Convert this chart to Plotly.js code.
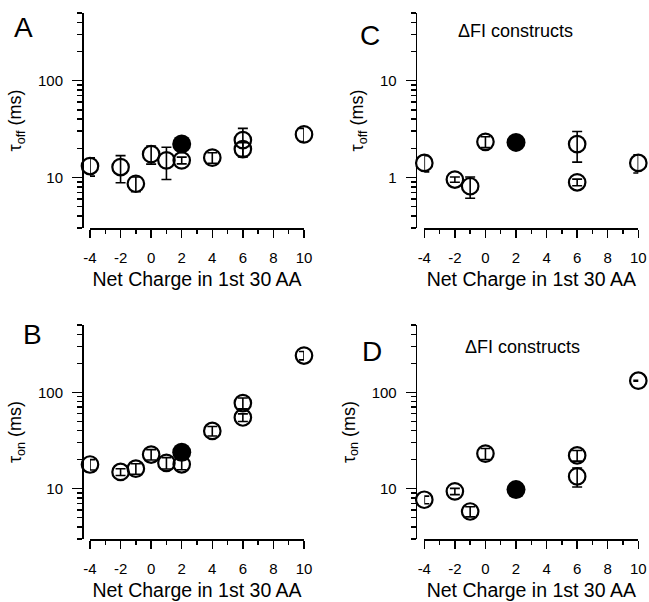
<!DOCTYPE html>
<html>
<head>
<meta charset="utf-8">
<script src="https://cdn.plot.ly/plotly-3.0.1.min.js"></script>
<style>html,body{margin:0;padding:0;background:#fff;}#chart{width:649px;height:602px;}</style>
</head>
<body>
<div id="chart"></div>
<script>
// ---- Data ----
// Panel A: tau_off, full constructs
const chargeA = [-4, -2, -1, 0, 1, 2, 4, 6, 6, 10];
const tauOffA = [13.1, 12.8, 8.6, 17.4, 15.0, 15.0, 16.0, 24.3, 19.6, 27.8];
const tauOffAErr = [2.8, 4.0, 1.5, 3.7, 5.5, 1.2, 2.0, 7.8, 3.3, 4.3];
const chargeAFilled = [2];
const tauOffAFilled = [22.1];

// Panel C: tau_off, ΔFI constructs
const chargeC = [-4, -2, -1, 0, 6, 6, 10];
const tauOffC = [1.41, 0.95, 0.81, 2.33, 2.21, 0.89, 1.41];
const tauOffCErr = [0.27, 0.06, 0.2, 0.3, 0.77, 0.07, 0.3];
const chargeCFilled = [2];
const tauOffCFilled = [2.30];

// Panel B: tau_on, full constructs
const chargeB = [-4, -2, -1, 0, 1, 2, 4, 6, 6, 10];
const tauOnB = [17.8, 14.9, 16.1, 22.6, 18.5, 17.9, 39.7, 77.3, 54.8, 241];
const tauOnBErr = [2.2, 1.2, 2.0, 2.8, 2.5, 2.2, 4.5, 10, 5, 24];
const chargeBFilled = [2];
const tauOnBFilled = [23.9];

// Panel D: tau_on, ΔFI constructs
const chargeD = [-4, -2, -1, 0, 6, 6, 10];
const tauOnD = [7.67, 9.37, 5.79, 23.1, 22.1, 13.4, 132];
const tauOnDErr = [0.7, 0.7, 0.7, 3.0, 2.8, 3.0, 1.5];
const chargeDFilled = [2];
const tauOnDFilled = [9.77];

const xTickVals = [-4, -2, 0, 2, 4, 6, 8, 10];
const xTitle = 'Net Charge in 1st 30 AA';
const yTitleOff = 'τ<sub>off</sub> (ms)';
const yTitleOn = 'τ<sub>on</sub> (ms)';
const panelLetters = ['A', 'B', 'C', 'D'];
const subTitle = 'ΔFI constructs';

// ---- Styling ----
const FONT = 'Liberation Sans, Arial, Helvetica, sans-serif';
const W = 649, H = 602;
const px = v => v / W;
const py = v => 1 - v / H;

function openTrace(x, y, err, xa, ya) {
  return {
    type: 'scatter', mode: 'markers', x: x, y: y, xaxis: xa, yaxis: ya,
    cliponaxis: false, showlegend: false, hoverinfo: 'x+y',
    marker: {symbol: 'circle', size: 16.5, color: 'rgba(0,0,0,0)', line: {color: 'black', width: 2.2}},
    error_y: {type: 'data', array: err, visible: true, color: 'black', thickness: 1.6, width: 5}
  };
}
function filledTrace(x, y, xa, ya) {
  return {
    type: 'scatter', mode: 'markers', x: x, y: y, xaxis: xa, yaxis: ya,
    cliponaxis: false, showlegend: false, hoverinfo: 'x+y',
    marker: {symbol: 'circle', size: 19, color: 'black', line: {color: 'black', width: 0}}
  };
}

const data = [
  openTrace(chargeA, tauOffA, tauOffAErr, 'x', 'y'),
  filledTrace(chargeAFilled, tauOffAFilled, 'x', 'y'),
  openTrace(chargeC, tauOffC, tauOffCErr, 'x2', 'y2'),
  filledTrace(chargeCFilled, tauOffCFilled, 'x2', 'y2'),
  openTrace(chargeB, tauOnB, tauOnBErr, 'x3', 'y3'),
  filledTrace(chargeBFilled, tauOnBFilled, 'x3', 'y3'),
  openTrace(chargeD, tauOnD, tauOnDErr, 'x4', 'y4'),
  filledTrace(chargeDFilled, tauOnDFilled, 'x4', 'y4')
];

function minorLog(lo, hi) {
  const v = [];
  for (let d = Math.floor(Math.log10(lo)); d <= Math.ceil(Math.log10(hi)); d++) {
    for (let k = 2; k <= 9; k++) {
      const t = k * Math.pow(10, d);
      if (t >= lo * 0.999 && t <= hi * 1.001) v.push(t);
    }
  }
  return v;
}

function xAxis(domain, anchor) {
  return {
    domain: domain, anchor: anchor, range: [-4, 10],
    showline: true, linecolor: 'black', linewidth: 1.5,
    ticks: 'outside', ticklen: 8, tickwidth: 1.5, tickcolor: 'black',
    tickvals: xTickVals, ticktext: xTickVals.map(String), ticklabelstandoff: 7,
    minor: {ticks: 'outside', ticklen: 4, tickwidth: 1.5, tickcolor: 'black', tickvals: [-3, -1, 1, 3, 5, 7, 9]},
    showgrid: false, zeroline: false,
    tickfont: {family: FONT, size: 15, color: 'black'},
    title: {text: xTitle, font: {family: FONT, size: 19.5, color: 'black'}, standoff: 8},
    fixedrange: true
  };
}
function yAxis(domain, position, lo, hi, tickvals, title) {
  return {
    type: 'log', domain: domain, anchor: 'free', position: position,
    range: [Math.log10(lo), Math.log10(hi)],
    showline: true, linecolor: 'black', linewidth: 1.5,
    ticks: 'outside', ticklen: 10, tickwidth: 1.5, tickcolor: 'black',
    tickvals: tickvals, ticktext: tickvals.map(String), ticklabelstandoff: 6,
    minor: {ticks: 'outside', ticklen: 5, tickwidth: 1.5, tickcolor: 'black', tickvals: minorLog(lo, hi)},
    showgrid: false, zeroline: false,
    tickfont: {family: FONT, size: 15, color: 'black'},
    title: {text: title, font: {family: FONT, size: 18, color: 'black'}, standoff: 10},
    fixedrange: true
  };
}

const xDomLeft = [px(90), px(304)];
const xDomRight = [px(424.3), px(638.3)];
const yDomTop = [py(228), py(13)];
const yDomBot = [py(539), py(325)];

function note(text, x, y, size) {
  return {text: text, x: px(x), y: py(y), xref: 'paper', yref: 'paper', xanchor: 'center', yanchor: 'middle',
          showarrow: false, font: {family: FONT, size: size, color: 'black'}};
}

const layout = {
  width: W, height: H,
  margin: {l: 0, r: 0, t: 0, b: 0},
  paper_bgcolor: 'white', plot_bgcolor: 'rgba(0,0,0,0)',
  font: {family: FONT, color: 'black'},
  showlegend: false,
  xaxis: xAxis(xDomLeft, 'y'),
  yaxis: yAxis(yDomTop, px(82), 3, 500, [10, 100], yTitleOff),
  xaxis2: xAxis(xDomRight, 'y2'),
  yaxis2: yAxis(yDomTop, px(415.7), 0.3, 50, [1, 10], yTitleOff),
  xaxis3: xAxis(xDomLeft, 'y3'),
  yaxis3: yAxis(yDomBot, px(82), 3, 500, [10, 100], yTitleOn),
  xaxis4: xAxis(xDomRight, 'y4'),
  yaxis4: yAxis(yDomBot, px(415.7), 3, 500, [10, 100], yTitleOn),
  annotations: [
    note(panelLetters[0], 23, 28, 28),
    note(panelLetters[1], 32, 334, 28),
    note(panelLetters[2], 370, 36, 28),
    note(panelLetters[3], 372, 351, 28),
    note(subTitle, 515, 31, 18),
    note(subTitle, 522, 347, 18)
  ]
};

Plotly.newPlot('chart', data, layout, {staticPlot: true, displayModeBar: false});
</script>
</body>
</html>
